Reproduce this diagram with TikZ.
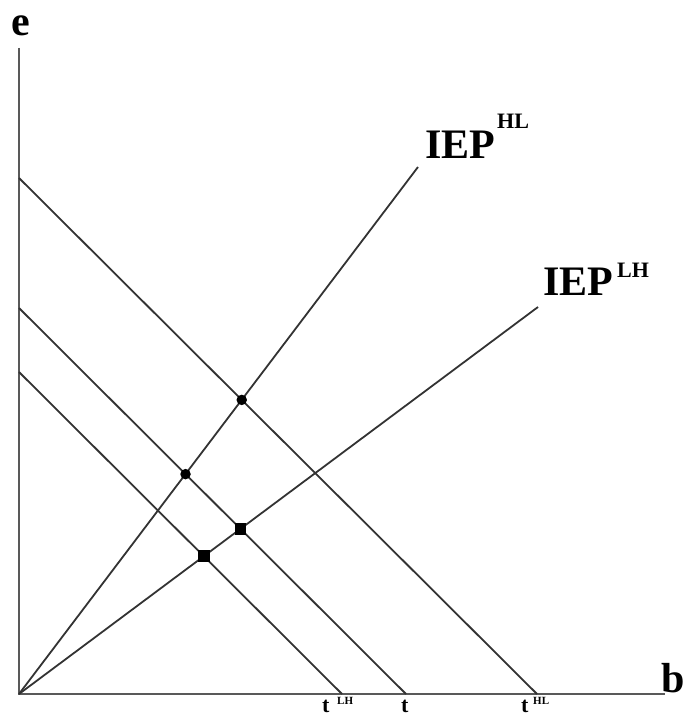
\documentclass[tikz,border=0pt]{standalone}
\usepackage{fontspec}
\setmainfont{Liberation Serif}
\begin{document}
\begin{tikzpicture}[x=1pt,y=-1pt,
  curve/.style={line width=1.8pt, draw=black!80},
  axis/.style={line width=2.2pt, draw=black!65},
  dotmark/.style={circle, fill=black, inner sep=0pt, minimum size=10.5pt},
  sqmark/.style={rectangle, fill=black, inner sep=0pt, minimum size=11.5pt},
  biglab/.style={font=\fontsize{42}{48}\selectfont\bfseries, inner sep=0pt, anchor=base west},
  suplab/.style={font=\fontsize{22}{26}\selectfont\bfseries, inner sep=0pt, anchor=base west},
  tlab/.style={font=\fontsize{22}{26}\selectfont\bfseries, inner sep=0pt, anchor=base west},
  tsup/.style={font=\fontsize{11}{13}\selectfont\bfseries, inner sep=0pt, anchor=base west}]
\useasboundingbox (0,0) rectangle (685,717);
\coordinate (O) at (19,694);
\coordinate (Ytop) at (19,48);
\coordinate (Xend) at (665,694);
\coordinate (A1) at (19,178); \coordinate (A2) at (537,694);
\coordinate (B1) at (19,308); \coordinate (B2) at (406,694);
\coordinate (C1) at (19,372); \coordinate (C2) at (342,694);
\coordinate (H) at (418,167);
\coordinate (L) at (538,307);
% axes
\draw[axis] (Ytop) -- (O) -- (Xend);
% budget lines
\draw[curve] (A1) -- (A2);
\draw[curve] (B1) -- (B2);
\draw[curve] (C1) -- (C2);
% IEP lines
\draw[curve] (O) -- (H);
\draw[curve] (O) -- (L);
% markers
\node[dotmark] (d1) at (intersection of O--H and A1--A2) {};
\node[dotmark] (d2) at (intersection of O--H and B1--B2) {};
\node[sqmark] (s1) at (intersection of O--L and B1--B2) {};
\node[sqmark] (s2) at (intersection of O--L and C1--C2) {};
% labels
\node[biglab] (elab) at (11,36) {e};
\node[biglab] (blab) at (661,692) {b};
\node[biglab] (iephl) at (425,158) {IEP};
\node[suplab] (iephlsup) at (497,128) {HL};
\node[biglab] (ieplh) at (543,295) {IEP};
\node[suplab] (ieplhsup) at (617,277) {LH};
\node[tlab] (tlh) at (322,712) {t};
\node[tsup] (tlhsup) at (337,704) {LH};
\node[tlab] (tmid) at (401,712) {t};
\node[tlab] (thl) at (521,712) {t};
\node[tsup] (thlsup) at (533,704) {HL};
\end{tikzpicture}
\end{document}
